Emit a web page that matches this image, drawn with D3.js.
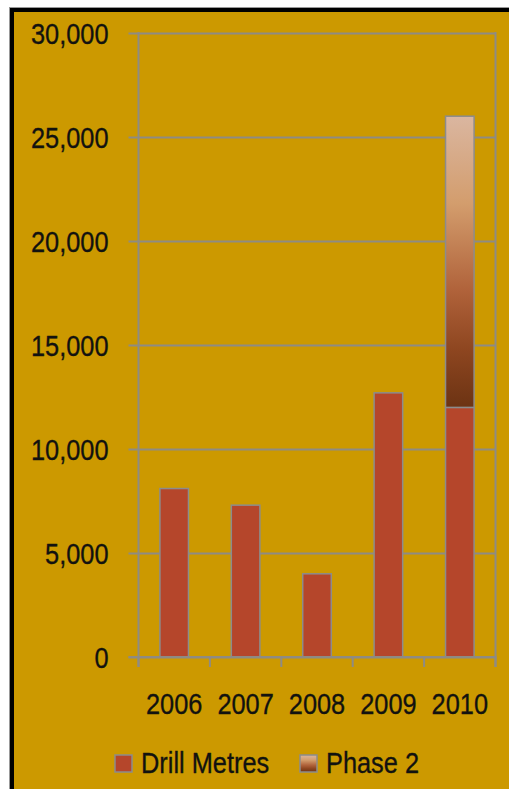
<!DOCTYPE html>
<html>
<head>
<meta charset="utf-8">
<script src="https://cdn.jsdelivr.net/npm/d3@7"></script>
<style>
  html, body { margin: 0; padding: 0; background: #fff; overflow: hidden; }
  text { font-family: "Liberation Sans", Arial, sans-serif; fill: #111; stroke: #1a1a0a; stroke-width: 0.35px; }
</style>
</head>
<body>
<div id="chart"></div>
<script>
var svgWidth = 509;
var svgHeight = 789;

// data
var years = ["2006", "2007", "2008", "2009", "2010"];
var drillMetres = [8100, 7300, 4000, 12700, 12000];
var phase2 = [0, 0, 0, 0, 14000];
var yTicks = [0, 5000, 10000, 15000, 20000, 25000, 30000];
var seriesNames = ["Drill Metres", "Phase 2"];

var plot = { left: 138.5, right: 495.5, top: 33, bottom: 657 };
var fontSize = "29.5px";
var sx = 0.86; // text is a bit narrow in the original

var svg = d3.select("#chart")
  .append("svg")
  .attr("width", svgWidth)
  .attr("height", svgHeight);

// gradient for phase 2
var defs = svg.append("defs");
var grad = defs.append("linearGradient")
  .attr("id", "phase2Grad")
  .attr("x1", 0).attr("y1", 0).attr("x2", 0).attr("y2", 1);
[["0%", "#dab6a0"], ["30%", "#d39d6d"], ["60%", "#b0623a"], ["80%", "#8e4620"], ["100%", "#6c3313"]]
  .forEach(function(s) {
    grad.append("stop").attr("offset", s[0]).attr("stop-color", s[1]);
  });

// frame
svg.append("rect")
  .attr("x", 9).attr("y", 7)
  .attr("width", 600).attr("height", 900)
  .attr("fill", "#999");
svg.append("rect")
  .attr("x", 10).attr("y", 8)
  .attr("width", 600).attr("height", 900)
  .attr("fill", "#000");
svg.append("rect")
  .attr("x", 14).attr("y", 12)
  .attr("width", 600).attr("height", 900)
  .attr("fill", "#cc9900");

// scales
var x = d3.scaleBand()
  .domain(years)
  .range([plot.left, plot.right])
  .paddingInner(0.6)
  .paddingOuter(0.3);

var y = d3.scaleLinear()
  .domain([0, 30000])
  .range([plot.bottom, plot.top]);

var gridColor = "#8e8b84";

// y axis with gridlines
var leftAxis = d3.axisLeft(y)
  .tickValues(yTicks)
  .tickFormat(d3.format(","))
  .tickSize(-(plot.right - plot.left))
  .tickPadding(0);

var yAxis = svg.append("g")
  .attr("transform", `translate(${plot.left}, 0)`)
  .call(leftAxis);
yAxis.select(".domain").remove();
yAxis.selectAll(".tick line")
  .attr("x1", -10)
  .attr("stroke", gridColor)
  .attr("stroke-width", 2);
yAxis.selectAll(".tick text")
  .attr("x", -30 / sx)
  .attr("dy", "0.36em")
  .attr("transform", `scale(${sx},1)`)
  .style("font-size", fontSize)
  .style("font-family", "'Liberation Sans', Arial, sans-serif")
  .attr("fill", "#111");

// vertical axis lines
svg.append("line")
  .attr("x1", plot.left).attr("x2", plot.left)
  .attr("y1", plot.top - 1).attr("y2", plot.bottom + 10)
  .attr("stroke", gridColor).attr("stroke-width", 2);
svg.append("line")
  .attr("x1", plot.right).attr("x2", plot.right)
  .attr("y1", plot.top - 1).attr("y2", plot.bottom + 10)
  .attr("stroke", gridColor).attr("stroke-width", 2);

// category boundary ticks
var bounds = years.map(function(d) { return x(d) - x.step() * 0.3; }).concat([plot.right]);
svg.selectAll(".xtick")
  .data(bounds)
  .enter()
  .append("line")
  .attr("class", "xtick")
  .attr("x1", d => d).attr("x2", d => d)
  .attr("y1", plot.bottom).attr("y2", plot.bottom + 10)
  .attr("stroke", gridColor).attr("stroke-width", 2);

// bars
var barStroke = "#8c8c8c";
svg.selectAll(".drill")
  .data(years)
  .enter()
  .append("rect")
  .attr("class", "drill")
  .attr("x", d => x(d))
  .attr("y", (d, i) => y(drillMetres[i]))
  .attr("width", x.bandwidth())
  .attr("height", (d, i) => y(0) - y(drillMetres[i]))
  .attr("fill", "#b5462b")
  .attr("stroke", barStroke)
  .attr("stroke-width", 1.5);

svg.selectAll(".phase2")
  .data(years.filter((d, i) => phase2[i] > 0))
  .enter()
  .append("rect")
  .attr("class", "phase2")
  .attr("x", d => x(d))
  .attr("y", d => { var i = years.indexOf(d); return y(drillMetres[i] + phase2[i]); })
  .attr("width", x.bandwidth())
  .attr("height", d => { var i = years.indexOf(d); return y(drillMetres[i]) - y(drillMetres[i] + phase2[i]); })
  .attr("fill", "url(#phase2Grad)")
  .attr("stroke", barStroke)
  .attr("stroke-width", 1.5);

// x axis line (drawn over bar bottoms)
svg.append("line")
  .attr("x1", plot.left - 10).attr("x2", plot.right + 1)
  .attr("y1", plot.bottom).attr("y2", plot.bottom)
  .attr("stroke", gridColor).attr("stroke-width", 2);

// x labels
svg.selectAll(".xlabel")
  .data(years)
  .enter()
  .append("text")
  .attr("class", "xlabel")
  .attr("transform", d => `translate(${x(d) + x.bandwidth() / 2}, 714) scale(${sx},1)`)
  .attr("text-anchor", "middle")
  .style("font-size", fontSize)
  .text(d => d);

// legend
var legendX = [115, 300];
var legend = svg.selectAll(".legend")
  .data(seriesNames)
  .enter()
  .append("g")
  .attr("class", "legend")
  .attr("transform", (d, i) => `translate(${legendX[i]}, 755)`);

legend.append("rect")
  .attr("width", 17).attr("height", 17)
  .attr("fill", (d, i) => i === 0 ? "#b5462b" : "url(#phase2Grad)")
  .attr("stroke", barStroke)
  .attr("stroke-width", 1.5);

legend.append("text")
  .attr("transform", `translate(26, 18) scale(${sx},1)`)
  .style("font-size", fontSize)
  .text(d => d);
</script>
</body>
</html>
